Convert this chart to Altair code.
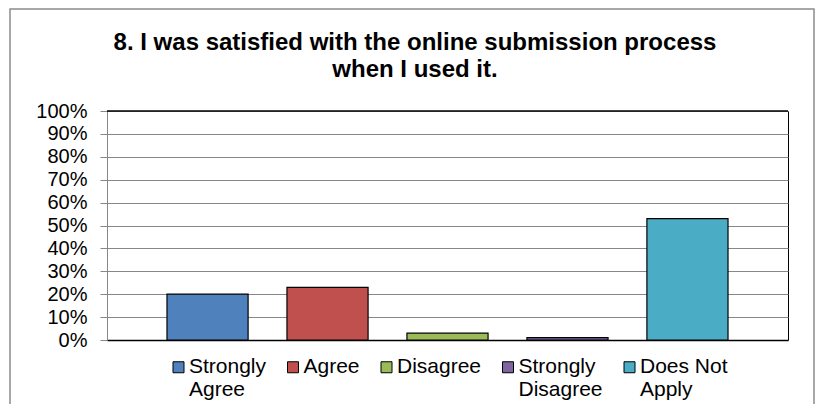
import altair as alt
import pandas as pd

categories = ["Strongly Agree", "Agree", "Disagree", "Strongly Disagree", "Does Not Apply"]
shares = [0.20, 0.23, 0.03, 0.01, 0.53]
colors = ["#4F81BD", "#C0504D", "#9BBB59", "#8064A2", "#4BACC6"]
legend_lines = [["Strongly", "Agree"], ["Agree"], ["Disagree"], ["Strongly", "Disagree"], ["Does Not", "Apply"]]
y_ticks = [0, 0.1, 0.2, 0.3, 0.4, 0.5, 0.6, 0.7, 0.8, 0.9, 1.0]
title_lines = ["8. I was satisfied with the online submission process", "when I used it."]

df = pd.DataFrame({"category": categories, "share": shares})

# label expression: every label becomes 2 lines so all legend entries have equal height
expr = "datum.label"
for cat, lines in reversed(list(zip(categories, legend_lines))):
    padded = lines + [""] * (2 - len(lines))
    arr = "[" + ",".join("'" + l + "'" for l in padded) + "]"
    expr = f"datum.label == '{cat}' ? {arr} : ({expr})"

FONT = "Liberation Sans"
GRID = "#878787"

y_axis = alt.Axis(values=y_ticks, format=".0%", title=None, labelFont=FONT,
                  labelFontSize=20, labelColor="black", tickSize=7, tickColor=GRID,
                  tickWidth=1, domainColor=GRID, domainWidth=1, gridColor=GRID,
                  gridWidth=1, labelPadding=13, labelOverlap=False)
y_scale = alt.Scale(domain=[0, 1])

bars = alt.Chart(df).mark_bar(stroke="black", strokeWidth=1.2).encode(
    x=alt.X(
        "category:N",
        sort=categories,
        scale=alt.Scale(paddingInner=0.324, paddingOuter=0.5),
        axis=alt.Axis(labels=False, ticks=False, title=None, domainColor="black",
                      domainWidth=1.5, grid=False),
    ),
    y=alt.Y("share:Q", scale=y_scale, axis=y_axis),
    color=alt.Color(
        "category:N",
        sort=categories,
        scale=alt.Scale(domain=categories, range=colors),
        legend=alt.Legend(
            orient="none", legendX=61, legendY=245.5, direction="horizontal",
            symbolType="square", symbolSize=121, symbolStrokeColor="black",
            symbolStrokeWidth=1, labelFont=FONT, labelFontSize=21, labelColor="black",
            labelBaseline="middle", labelOffset=0, columnPadding=15.5, padding=0,
            title=None, labelExpr=expr, labelLimit=300,
        ),
    ),
)

top_rule = alt.Chart(pd.DataFrame({"v": [1.0]})).mark_rule(
    color="black", strokeWidth=1.5
).encode(y=alt.Y("v:Q", scale=y_scale, axis=y_axis))

frame = alt.Chart(pd.DataFrame({"a": [0]})).mark_rect(
    filled=False, stroke="#8c8c8c", strokeWidth=1.5
).encode(
    x=alt.value(-97), x2=alt.value(707), y=alt.value(-102), y2=alt.value(420)
)

title = alt.Chart(pd.DataFrame({"a": [0]})).mark_text(
    text=title_lines, font=FONT, fontSize=24, fontWeight="bold", color="black",
    align="center", baseline="alphabetic", lineHeight=27,
).encode(x=alt.value(308), y=alt.value(-61))

chart = alt.layer(bars, top_rule, frame, title).properties(
    width=681,
    height=229,
    autosize=alt.AutoSizeParams(type="none"),
    padding={"left": 99, "top": 103, "right": 28, "bottom": 64},
).configure_view(stroke="black", strokeWidth=1)

chart.save("out.html", embed_options={"renderer": "svg", "actions": False})
